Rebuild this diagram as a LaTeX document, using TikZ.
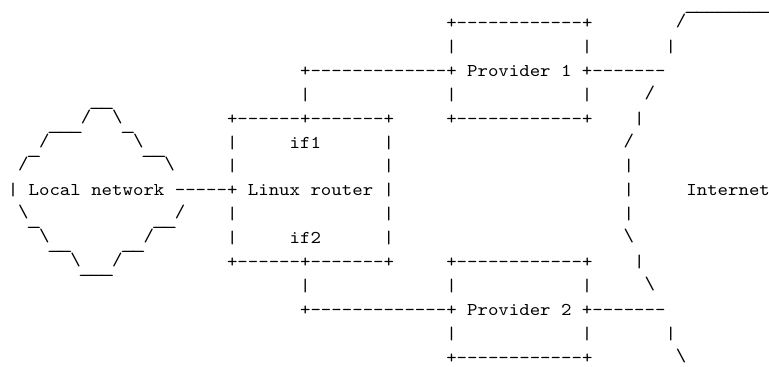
\documentclass[tikz,border=0pt]{standalone}
\usepackage{graphicx}
\usepackage{fontspec}
\newfontfamily\asciifont[FakeStretch=1.105]{lmmono10-regular.otf}
% full-cell underscore, slash and backslash characters of the ASCII art
\newcommand\U{\makebox[10.44pt][c]{\raisebox{-6pt}[0pt][0pt]{\scalebox{1.5}[1]{\symbol{95}}}}}
\newcommand\B{\raisebox{2pt}[9pt][0pt]{\symbol{92}}}
\newcommand\Sl{\raisebox{2pt}[9pt][0pt]{/}}
\tikzset{
  asc/.style={anchor=base west, inner sep=0pt, outer sep=0pt,
    font={\asciifont\fontsize{18}{18}\selectfont}, text=black}
}
% place text #4 at column #2, row #3 of the character grid, node name #1
\newcommand\At[4]{\node[asc] (#1) at ({7.78+10.44*#2},{338.6-23.93*#3}) {#4};}
\begin{document}
\begin{tikzpicture}[x=1pt,y=1pt]
\fill[white] (0,0) rectangle (769,367);
\useasboundingbox (0,0) rectangle (769,367);
% row -1
\At{skytop}{65}{-1}{\U\U\U\U\U\U\U\U}
% row 0
\At{pOnetop}{42}{0}{+------------+}
\At{cZero}{64}{0}{\Sl}
% row 1
\At{pOneLa}{42}{1}{|}
\At{pOneRa}{55}{1}{|}
\At{cOne}{63}{1}{|}
% row 2
\At{linkOneA}{28}{2}{+-------------+}
\At{provOne}{44}{2}{Provider}
\At{provOneN}{53}{2}{1}
\At{linkOneB}{55}{2}{+-------}
% row 3
\At{cThreeA}{8}{3}{\U\U}
\At{rThree}{28}{3}{|}
\At{pOneLb}{42}{3}{|}
\At{pOneRb}{55}{3}{|}
\At{cThreeB}{61}{3}{\Sl}
% row 4
\At{cFourA}{4}{4}{\U\U\U\Sl}
\At{cFourB}{10}{4}{\B\U}
\At{routerTop}{21}{4}{+------+-------+}
\At{pOnebot}{42}{4}{+------------+}
\At{cFourC}{60}{4}{|}
% row 5
\At{cFiveA}{2}{5}{\U\Sl}
\At{cFiveB}{12}{5}{\B\U\U}
\At{rFiveL}{21}{5}{|}
\At{ifOne}{27}{5}{if1}
\At{rFiveR}{36}{5}{|}
\At{cFiveC}{59}{5}{\Sl}
% row 6
\At{cSixA}{1}{6}{\Sl}
\At{cSixB}{15}{6}{\B}
\At{rSixL}{21}{6}{|}
\At{rSixR}{36}{6}{|}
\At{cSixC}{59}{6}{|}
% row 7
\At{cSevenA}{0}{7}{|}
\At{localA}{2}{7}{Local}
\At{localB}{8}{7}{network}
\At{lanLink}{16}{7}{-----+}
\At{routerA}{23}{7}{Linux}
\At{routerB}{29}{7}{router}
\At{rSevenR}{36}{7}{|}
\At{cSevenC}{59}{7}{|}
\At{internet}{65}{7}{Internet}
% row 8
\At{cEightA}{1}{8}{\B\U}
\At{cEightB}{14}{8}{\U\U\Sl}
\At{rEightL}{21}{8}{|}
\At{rEightR}{36}{8}{|}
\At{cEightC}{59}{8}{|}
% row 9
\At{cNineA}{3}{9}{\B\U\U}
\At{cNineB}{11}{9}{\U\U\Sl}
\At{rNineL}{21}{9}{|}
\At{ifTwo}{27}{9}{if2}
\At{rNineR}{36}{9}{|}
\At{cNineC}{59}{9}{\B}
% row 10
\At{cTenA}{6}{10}{\B\U\U\U\Sl}
\At{routerBot}{21}{10}{+------+-------+}
\At{pTwotop}{42}{10}{+------------+}
\At{cTenC}{60}{10}{|}
% row 11
\At{rEleven}{28}{11}{|}
\At{pTwoLa}{42}{11}{|}
\At{pTwoRa}{55}{11}{|}
\At{cElevenC}{61}{11}{\B}
% row 12
\At{linkTwoA}{28}{12}{+-------------+}
\At{provTwo}{44}{12}{Provider}
\At{provTwoN}{53}{12}{2}
\At{linkTwoB}{55}{12}{+-------}
% row 13
\At{pTwoLb}{42}{13}{|}
\At{pTwoRb}{55}{13}{|}
\At{cThirteenC}{63}{13}{|}
% row 14
\At{pTwobot}{42}{14}{+------------+}
\At{cFourteenC}{64}{14}{\B}
\end{tikzpicture}
\end{document}
